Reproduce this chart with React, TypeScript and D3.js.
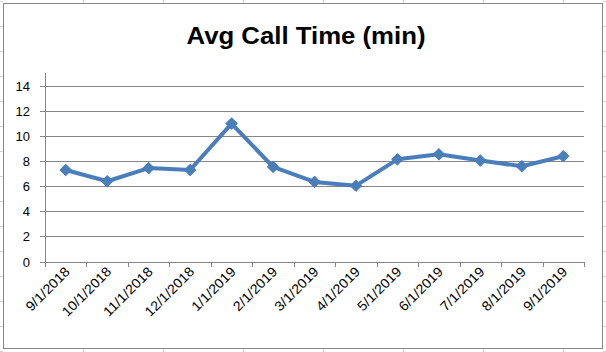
import React from "react";
import * as d3 from "d3";

const categories = [
  "9/1/2018", "10/1/2018", "11/1/2018", "12/1/2018", "1/1/2019", "2/1/2019",
  "3/1/2019", "4/1/2019", "5/1/2019", "6/1/2019", "7/1/2019", "8/1/2019", "9/1/2019",
];
const values = [7.3, 6.4, 7.45, 7.3, 11.0, 7.55, 6.35, 6.05, 8.15, 8.55, 8.05, 7.6, 8.4];
const yTicks = [0, 2, 4, 6, 8, 10, 12, 14];
const title = "Avg Call Time (min)";

const W = 606;
const H = 352;
const left = 45;
const right = 584;
const top = 86;
const bottom = 261.5;

// approximate label width of a Calibri-like 11pt font
const labelWidth = (s: string) => {
  let w = 0;
  for (const ch of s) w += ch === "/" ? 0.386 : 0.507;
  return w * 14.67;
};

export default function App() {
  const x = d3.scaleBand<string>().domain(categories).range([left, right]);
  const y = d3.scaleLinear().domain([0, 14]).range([bottom, top]);
  const cx = (c: string) => (x(c) as number) + x.bandwidth() / 2;
  const line = d3
    .line<number>()
    .x((_, i) => cx(categories[i]))
    .y((d) => y(d));
  const diamond = d3.symbol().type(d3.symbolDiamond2).size(85)();
  const bandEdges = categories.map((c) => x(c) as number).concat([right]);

  const colLines = d3.range(83, W, 80);
  const rowLines = d3.range(1, H, 25);
  const gridGray = "#d4d4d4";
  const axisGray = "#868686";

  return (
    <svg
      width={W}
      height={H}
      style={{ position: "absolute", left: 0, top: 0, background: "#fff" }}
      fontFamily="'Liberation Sans', Arial, sans-serif"
    >
      {colLines.map((cxl) => (
        <g key={"c" + cxl}>
          <line x1={cxl + 0.5} x2={cxl + 0.5} y1={0} y2={3} stroke={gridGray} />
          <line x1={cxl + 0.5} x2={cxl + 0.5} y1={349} y2={H} stroke={gridGray} />
        </g>
      ))}
      {rowLines.map((ry) => (
        <g key={"r" + ry}>
          <line x1={0} x2={3} y1={ry + 0.5} y2={ry + 0.5} stroke={gridGray} />
          <line x1={603} x2={W} y1={ry + 0.5} y2={ry + 0.5} stroke={gridGray} />
        </g>
      ))}
      <rect x={3.5} y={3.5} width={599} height={345} fill="#fff" stroke={axisGray} strokeWidth={1} />

      <text
        x={306}
        y={43.5}
        textAnchor="middle"
        fontSize={23}
        fontWeight="bold"
        fill="#000"
        textLength={239}
        lengthAdjust="spacingAndGlyphs"
      >
        {title}
      </text>

      {yTicks.map((t) => (
        <g key={"g" + t}>
          <line
            x1={left - 5}
            x2={right}
            y1={Math.round(y(t)) + 0.5}
            y2={Math.round(y(t)) + 0.5}
            stroke={axisGray}
            strokeWidth={1}
          />
          <text
            x={30}
            y={Math.round(y(t)) + 5}
            textAnchor="end"
            fontSize={13}
            fill="#000"
          >
            {t}
          </text>
        </g>
      ))}
      <line x1={left + 0.5} x2={left + 0.5} y1={top - 13} y2={bottom + 0.5} stroke={axisGray} />
      {bandEdges.map((bx, i) => (
        <line
          key={"t" + i}
          x1={Math.round(bx) + 0.5}
          x2={Math.round(bx) + 0.5}
          y1={Math.round(bottom)}
          y2={Math.round(bottom) + 5}
          stroke={axisGray}
        />
      ))}
      {categories.map((c) => (
        <text
          key={"l" + c}
          transform={`translate(${cx(c) + 5},${bottom + 11}) rotate(-45)`}
          textAnchor="end"
          fontSize={13.5}
          fill="#000"
          textLength={labelWidth(c)}
          lengthAdjust="spacingAndGlyphs"
        >
          {c}
        </text>
      ))}

      <path d={line(values) || ""} fill="none" stroke="#4a7ebb" strokeWidth={4} strokeLinejoin="round" />
      {values.map((v, i) => (
        <path
          key={"m" + i}
          d={diamond || ""}
          transform={`translate(${cx(categories[i])},${y(v)})`}
          fill="#4a7ebb"
          stroke="#4a7ebb"
          strokeWidth={1}
        />
      ))}
    </svg>
  );
}
